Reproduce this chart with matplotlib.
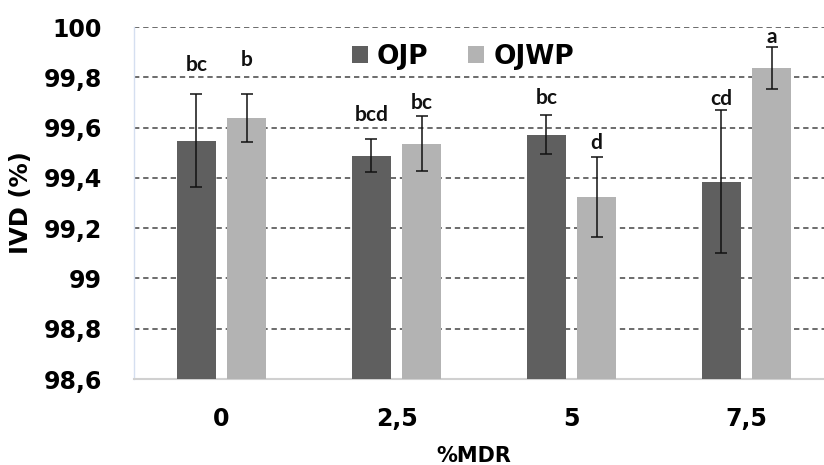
import matplotlib
matplotlib.use("Agg")
import matplotlib.pyplot as plt
import numpy as np

categories = ["0", "2,5", "5", "7,5"]
series_names = ["OJP", "OJWP"]
ojp_values = [99.548, 99.488, 99.572, 99.385]
ojp_err = [0.185, 0.065, 0.079, 0.283]
ojwp_values = [99.639, 99.536, 99.323, 99.837]
ojwp_err = [0.096, 0.109, 0.160, 0.084]
ojp_letters = ["bc", "bcd", "bc", "cd"]
ojwp_letters = ["b", "bc", "d", "a"]
ojp_letter_y = [99.849, 99.650, 99.718, 99.714]
ojwp_letter_y = [99.869, 99.698, 99.539, 99.960]
yticks = [98.6, 98.8, 99.0, 99.2, 99.4, 99.6, 99.8, 100.0]
ytick_labels = ["98,6", "98,8", "99", "99,2", "99,4", "99,6", "99,8", "100"]

dark = "#5f5f5f"
light = "#b3b3b3"

fig = plt.figure(figsize=(8.24, 4.65), dpi=100)
ax = fig.add_axes([134/824, 1 - 379/465, 1 - 134/824, (379 - 27)/465])

x = np.arange(len(categories))
w = 0.223
off = 0.143
base = 98.6
ax.bar(x - off, np.array(ojp_values) - base, w, bottom=base, color=dark,
       label=series_names[0], zorder=3)
ax.bar(x + off, np.array(ojwp_values) - base, w, bottom=base, color=light,
       label=series_names[1], zorder=3)
ax.errorbar(x - off, ojp_values, yerr=ojp_err, fmt="none", ecolor="#111111",
            elinewidth=1.1, capsize=4.5, capthick=1.1, zorder=4)
ax.errorbar(x + off, ojwp_values, yerr=ojwp_err, fmt="none", ecolor="#111111",
            elinewidth=1.1, capsize=4.5, capthick=1.1, zorder=4)

for i in range(len(categories)):
    ax.text(x[i] - off, ojp_letter_y[i], ojp_letters[i], ha="center", va="center",
            fontsize=15, fontweight="bold", family="Lato", color="#111111")
    ax.text(x[i] + off, ojwp_letter_y[i], ojwp_letters[i], ha="center", va="center",
            fontsize=15, fontweight="bold", family="Lato", color="#111111")

ax.set_ylim(98.6, 100.0)
ax.set_xlim(-0.5, (824 - 134) / 175 - 0.5)
ax.set_yticks(yticks)
ax.set_yticklabels(ytick_labels, fontsize=17, fontweight="bold", family="DejaVu Sans")
ax.set_xticks(x)
ax.set_xticklabels(categories, fontsize=17, fontweight="bold", family="DejaVu Sans")
ax.tick_params(axis="y", length=0, pad=23)
ax.tick_params(axis="x", length=0, pad=20)

for yv in yticks[1:]:
    ax.axhline(yv, color="#444444", linestyle=(0, (3.5, 2.5)), linewidth=1.1, zorder=1)

for s in ["top", "right"]:
    ax.spines[s].set_visible(False)
ax.spines["left"].set_color("#d5dff0")
ax.spines["left"].set_linewidth(1.0)
ax.spines["bottom"].set_color("#d0d0d0")
ax.spines["bottom"].set_linewidth(1.5)

ax.set_ylabel("IVD (%)", fontsize=17.5, fontweight="bold", family="DejaVu Sans")
ax.yaxis.set_label_coords((33 - 134) / 690, 0.5)
ax.set_xlabel("%MDR", fontsize=15, fontweight="bold", family="DejaVu Sans")
ax.xaxis.set_label_coords((474 - 134) / 690, -(446 - 379) / 352)

leg = ax.legend(loc="center", bbox_to_anchor=((463 - 134) / 690, 1 - (57 - 27) / 352),
                ncol=2, frameon=False, handlelength=0.6, handleheight=0.6,
                handletextpad=0.35, columnspacing=1.5,
                prop={"family": "DejaVu Sans", "weight": "bold", "size": 19})

fig.savefig("out.png", dpi=100)
